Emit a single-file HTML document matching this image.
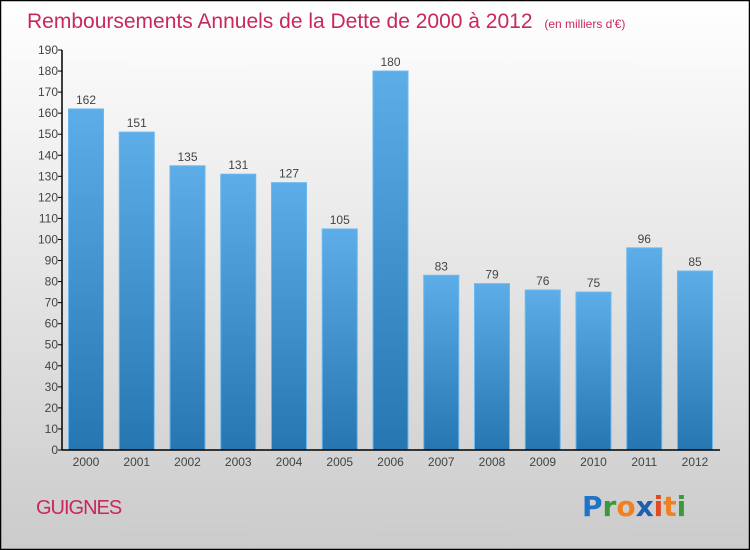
<!DOCTYPE html>
<html><head><meta charset="utf-8"><style>
body{margin:0;}
svg{display:block;font-family:"Liberation Sans",sans-serif;}
</style></head><body>
<svg id="chart" width="750" height="550" xmlns="http://www.w3.org/2000/svg">
<defs>
<linearGradient id="bg" x1="0" y1="0" x2="0" y2="1"><stop offset="0" stop-color="#ffffff"/><stop offset="1" stop-color="#cbcbcb"/></linearGradient>
<linearGradient id="bar" x1="0" y1="0" x2="0" y2="1"><stop offset="0" stop-color="#5dade8"/><stop offset="1" stop-color="#2676b2"/></linearGradient>
</defs>
<rect x="0.5" y="0.5" width="749" height="549" fill="url(#bg)" stroke="#000" stroke-width="1.5"/>
<text x="27" y="28" font-size="21" fill="#c8285a">Remboursements Annuels de la Dette de 2000 à 2012 <tspan font-size="12" dx="6">(en milliers d'€)</tspan></text>
<g id="bars"></g>
<g id="axes"></g>
<text x="36" y="514" font-size="20" fill="#c8285a" letter-spacing="-1">GUIGNES</text>
<text x="582" y="516" font-size="28" font-weight="bold" font-family="'DejaVu Sans',sans-serif"><tspan fill="#1f74c8">P</tspan><tspan fill="#3a9a3a">r</tspan><tspan fill="#f08020">o</tspan><tspan fill="#1f5fb0">x</tspan><tspan fill="#e04a20">i</tspan><tspan fill="#f08020">t</tspan><tspan fill="#3a9a3a">i</tspan></text>
</svg>
<script>
const categories=["2000","2001","2002","2003","2004","2005","2006","2007","2008","2009","2010","2011","2012"];
const values=[162,151,135,131,127,105,180,83,79,76,75,96,85];
const yTicks=[0,10,20,30,40,50,60,70,80,90,100,110,120,130,140,150,160,170,180,190];
const NS="http://www.w3.org/2000/svg";
const x0=62,x1=720,yb=450,yt=50,ymax=190;
const step=50.75,first=86,bw=35;
function y(v){return yb-(v/ymax)*(yb-yt);}
function xc(i){return first+i*step;}
function mk(t,a,p){const e=document.createElementNS(NS,t);for(const k in a)e.setAttribute(k,a[k]);p.appendChild(e);return e;}
const gb=document.getElementById('bars'),ga=document.getElementById('axes');
values.forEach((v,i)=>{
 const r=mk('rect',{x:xc(i)-bw/2,y:y(v),width:bw,height:yb-y(v),fill:'url(#bar)',stroke:'#6bb8ee','stroke-width':1},gb);
 
 
 const t=mk('text',{x:xc(i),y:y(v)-5,'text-anchor':'middle','font-size':12,fill:'#444'},gb);
 t.textContent=v;
 
 
 const c=mk('text',{x:xc(i),y:yb+16,'text-anchor':'middle','font-size':12,fill:'#444'},ga);
 c.textContent=categories[i];
 
 
});
yTicks.forEach(v=>{
 mk('line',{x1:x0-4,x2:x0,y1:y(v),y2:y(v),stroke:'#000'},ga);
 const t=mk('text',{x:x0-4,y:y(v)+4,'text-anchor':'end','font-size':12,fill:'#444'},ga);
 t.textContent=v;
 
 
});
const ya=mk('line',{x1:x0,x2:x0,y1:yt,y2:yb,stroke:'#000','stroke-width':1.5},ga);


const xa=mk('line',{x1:x0,x2:x1,y1:yb,y2:yb,stroke:'#000','stroke-width':1.5},ga);


</script>
</body></html>
